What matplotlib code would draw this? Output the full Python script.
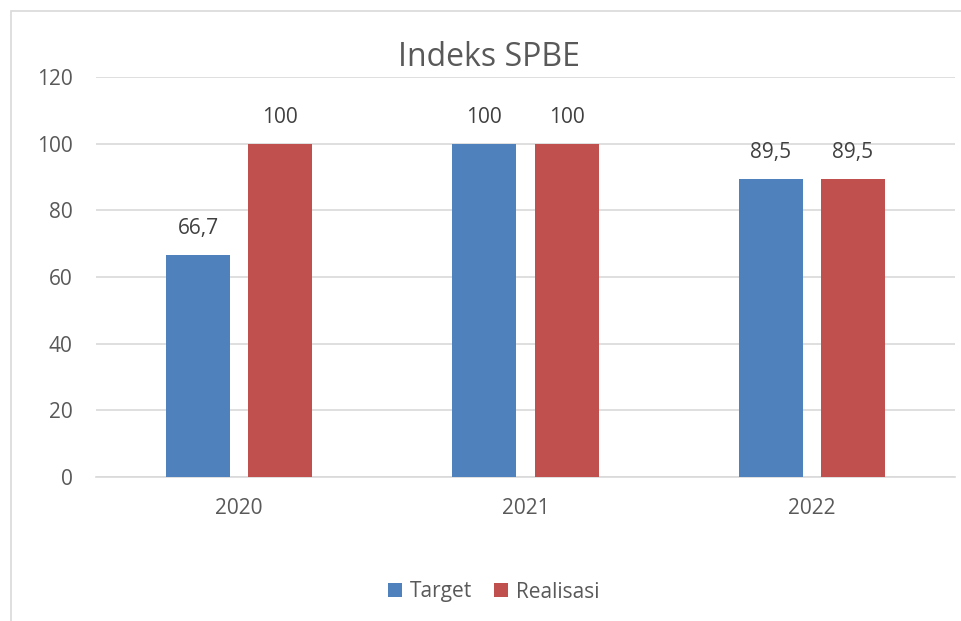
import matplotlib
matplotlib.use("Agg")
import matplotlib.pyplot as plt
from matplotlib.patches import Rectangle
import numpy as np

plt.rcParams['font.family'] = ['Open Sans', 'DejaVu Sans']

years = ["2020", "2021", "2022"]
target = [66.7, 100, 89.5]
realisasi = [100, 100, 89.5]
yticks = [0, 20, 40, 60, 80, 100, 120]

BLUE = "#4F81BD"
RED = "#C0504D"
TEXT = "#595959"
GRID = "#D9D9D9"

W, H = 962, 621
fig = plt.figure(figsize=(W / 100, H / 100), dpi=100)

# chart frame
fig.patches.append(Rectangle((10.5 / W, -0.1), 1.2, 1 - 10.5 / H + 0.1,
                             transform=fig.transFigure, fill=False,
                             edgecolor=GRID, linewidth=1.2))

ax = fig.add_axes([96 / W, 1 - 477 / H, (955 - 96) / W, 400 / H])

x = np.arange(len(years))
bw = 0.224
gap = 0.063
off = (bw + gap) / 2
b1 = ax.bar(x - off, target, bw, color=BLUE, label="Target", zorder=3)
b2 = ax.bar(x + off, realisasi, bw, color=RED, label="Realisasi", zorder=3)


def fmt(v):
    s = f"{v:g}"
    return s.replace(".", ",")


for bars, vals in ((b1, target), (b2, realisasi)):
    for r, v in zip(bars, vals):
        ax.annotate(fmt(v), (r.get_x() + r.get_width() / 2, v),
                    xytext=(0, 19), textcoords="offset points",
                    ha="center", va="center", fontsize=15, color="#404040")

ax.set_xlim(-0.5, 2.5)
ax.set_ylim(0, 120)
ax.set_yticks(yticks)
ax.set_xticks(x)
ax.set_xticklabels(years)
ax.yaxis.grid(True, color=GRID, linewidth=1.2, zorder=0)
ax.set_axisbelow(True)
for s in ("top", "right", "left"):
    ax.spines[s].set_visible(False)
ax.spines["bottom"].set_color(GRID)
ax.spines["bottom"].set_linewidth(1.2)
ax.tick_params(axis="both", length=0, labelsize=15, colors=TEXT)
ax.tick_params(axis="y", pad=17)
ax.tick_params(axis="x", pad=15)

fig.text(489 / W, 1 - 66 / H, "Indeks SPBE", ha="center", va="baseline",
         fontsize=23, color=TEXT)

fig.legend(handles=[b1, b2], labels=["Target", "Realisasi"], loc="center",
           bbox_to_anchor=(494 / W, 1 - 592 / H), ncol=2, frameon=False,
           fontsize=15, labelcolor=TEXT, handlelength=0.65, handleheight=0.65,
           handletextpad=0.4, columnspacing=1.05)

fig.savefig("out.png", dpi=100)
